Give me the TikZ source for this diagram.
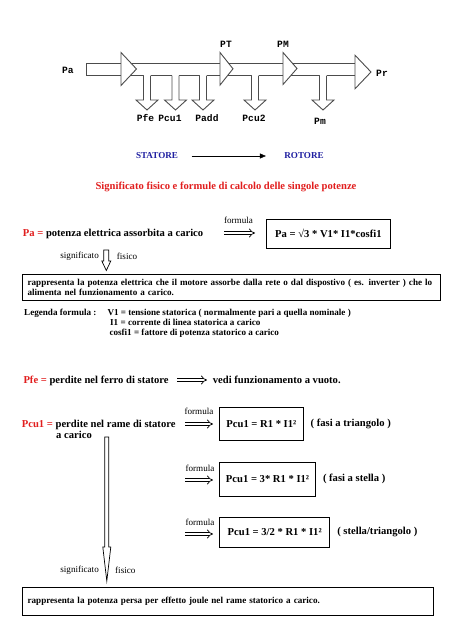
\documentclass[tikz,border=0pt]{standalone}
\usepackage{fontspec}
\setmainfont{Liberation Serif}
\newfontfamily\codefont{Liberation Mono}
\usetikzlibrary{arrows.meta,positioning}
\definecolor{titlered}{RGB}{225,30,30}
\definecolor{rotblue}{RGB}{30,30,160}

\begin{document}
\begin{tikzpicture}[x=1pt, y=-1pt,
    flow/.style={draw=black!70, line width=0.9pt},
    plabel/.style={font=\codefont\bfseries\fontsize{9.6}{12}\selectfont, inner sep=0pt},
    bigtxt/.style={font=\bfseries\fontsize{10.6}{12.5}\selectfont, inner sep=0pt, anchor=base west},
    smalltxt/.style={font=\fontsize{9.1}{11}\selectfont, inner sep=0pt},
    legtxt/.style={font=\bfseries\fontsize{9.1}{10}\selectfont, inner sep=0pt, anchor=base west},
    frmbox/.style={draw, line width=0.8pt, anchor=north west, inner sep=0pt, font=\bfseries\fontsize{10.6}{12.5}\selectfont},
    notebox/.style={draw, line width=0.8pt, anchor=north west, inner xsep=5.5pt, inner ysep=0pt, align=left, font=\bfseries\fontsize{9.1}{10}\selectfont},
    impl/.style={double, double distance=2.4pt, line width=0.7pt, -{Implies}},
    hollow/.style={draw, line width=0.7pt, fill=white}
]
\useasboundingbox (0,0) rectangle (452,640);

% power flow
\draw[flow] (355,63.5) -- (86,63.5) -- (86,75.5) -- (355,75.5);
\foreach \bx in {147,175.5,203,255,323} {
  \fill[white] (\bx-3.5,74.5) rectangle (\bx+3.5,76.5);
  \draw[flow, fill=white] (\bx-3.5,75.5) -- (\bx-3.5,100) -- (\bx-11,100) -- (\bx,110)
    -- (\bx+11,100) -- (\bx+3.5,100) -- (\bx+3.5,75.5);
}
\foreach \tx/\ty/\th/\tl in {121/69/16.5/15.5, 220/68.8/16.3/13, 283/68.5/16/14, 355/72/16.8/16}
  \draw[flow, fill=white] (\tx,\ty-\th) -- (\tx+\tl,\ty) -- (\tx,\ty+\th) -- cycle;
\node[plabel] (pa) at (68,70) {Pa};
\node[plabel] (pt) at (226,44) {PT};
\node[plabel] (pmm) at (283,44) {PM};
\node[plabel] (pr) at (382,73) {Pr};
\node[plabel] (pfe) at (145.5,118) {Pfe};
\node[plabel] (pcu1) at (170,118) {Pcu1};
\node[plabel] (padd) at (207,118) {Padd};
\node[plabel] (pcu2) at (254,118) {Pcu2};
\node[plabel] (pm) at (320,121) {Pm};

% statore -> rotore
\node[font=\bfseries\fontsize{9.1}{11}\selectfont, text=rotblue, inner sep=0pt] (stat) at (157,156) {STATORE};
\node[font=\bfseries\fontsize{9.1}{11}\selectfont, text=rotblue, inner sep=0pt] (rot) at (304,156) {ROTORE};
\draw[line width=0.5pt, -{Triangle[length=6pt,width=5pt]}, shorten <=13.4pt, shorten >=18.3pt] (stat) -- (rot);
\node[font=\bfseries\fontsize{10.6}{12}\selectfont, text=titlered, inner sep=0pt] (title) at (226,187)
  {Significato fisico e formule di calcolo delle singole potenze};

% Pa
\node[bigtxt] (paline) at (22.7,236.5) {\textcolor{titlered}{Pa =} potenza elettrica assorbita a carico};
\node[smalltxt] (fpa) at (238.5,220) {formula};
\coordinate (a1s) at (224,233);
\coordinate (a1e) at (255,233);
\draw[impl] (a1s) -- (a1e);
\node[frmbox, minimum width=124pt, minimum height=28.7pt] (pabox) at (266,219) {Pa = √3 * V1* I1*cosfi1};
\node[smalltxt, anchor=east] (sig1) at (99,256) {significato};
\node[smalltxt, anchor=west] (fis1) at (116.7,256) {fisico};
\draw[hollow] (103.8,250) -- (103.8,261) -- (101.8,261) -- (106.3,270.5) -- (110.8,261)
  -- (108.8,261) -- (108.8,250) -- cycle;
\node[notebox, text width=407.3pt, minimum height=25.5pt] (panote) at (21.7,274)
  {rappresenta la potenza elettrica che il motore assorbe dalla rete o dal dispostivo ( es. inverter ) che lo\\
   alimenta nel funzionamento a carico.};

% legenda
\node[legtxt] (leg) at (24,315.5) {Legenda formula :};
\node[legtxt] (legv) at (107.3,315.5) {V1 = tensione statorica ( normalmente pari a quella nominale )};
\node[legtxt] (legi) at (110,325.5) {I1 = corrente di linea statorica a carico};
\node[legtxt] (legc) at (109.3,335.5) {cosfi1 = fattore di potenza statorico a carico};

% Pfe
\node[bigtxt] (pfeline) at (23.3,383.5) {\textcolor{titlered}{Pfe =} perdite nel ferro di statore};
\coordinate (b1s) at (177,380);
\coordinate (b1e) at (207,380);
\draw[impl] (b1s) -- (b1e);
\node[bigtxt] (vuoto) at (212.7,383.5) {vedi funzionamento a vuoto.};

% Pcu1
\node[bigtxt] (pculine) at (21.7,427.5) {\textcolor{titlered}{Pcu1 =} perdite nel rame di statore};
\node[bigtxt] (pcucar) at (56,438.5) {a carico};

\node[smalltxt] (f1) at (199,411.7) {formula};
\coordinate (c1s) at (185,424);
\coordinate (c1e) at (213,424);
\draw[impl] (c1s) -- (c1e);
\node[frmbox, minimum width=83.4pt, minimum height=33.3pt] (box1) at (219.3,406.7) {Pcu1 = R1 * I1²};
\node[bigtxt, right=7pt of box1] (tri) {( fasi a triangolo )};

\node[smalltxt] (f2) at (200,468.3) {formula};
\coordinate (c2s) at (185,480);
\coordinate (c2e) at (213,480);
\draw[impl] (c2s) -- (c2e);
\node[frmbox, minimum width=95.7pt, minimum height=34.3pt] (box2) at (219.3,461.7) {Pcu1 = 3* R1 * I1²};
\node[bigtxt, right=7pt of box2] (stel) {( fasi a stella )};

\node[smalltxt] (f3) at (200,522.7) {formula};
\coordinate (c3s) at (185,534);
\coordinate (c3e) at (213,534);
\draw[impl] (c3s) -- (c3e);
\node[frmbox, minimum width=110pt, minimum height=30pt] (box3) at (219.3,516.7) {Pcu1 = 3/2 * R1 * I1²};
\node[bigtxt, right=7pt of box3] (steltri) {( stella/triangolo )};

\draw[hollow] (104.8,437) -- (104.8,547) -- (102.8,547) -- (106.8,581) -- (110.8,547)
  -- (108.8,547) -- (108.8,437) -- cycle;
\node[smalltxt, anchor=east] (sig2) at (99,570) {significato};
\node[smalltxt, anchor=west] (fis2) at (115,570) {fisico};
\node[notebox, text width=400.3pt, minimum height=28.3pt] (pcunote) at (21.7,586.7)
  {rappresenta la potenza persa per effetto joule nel rame statorico a carico.};
\end{tikzpicture}
\end{document}
